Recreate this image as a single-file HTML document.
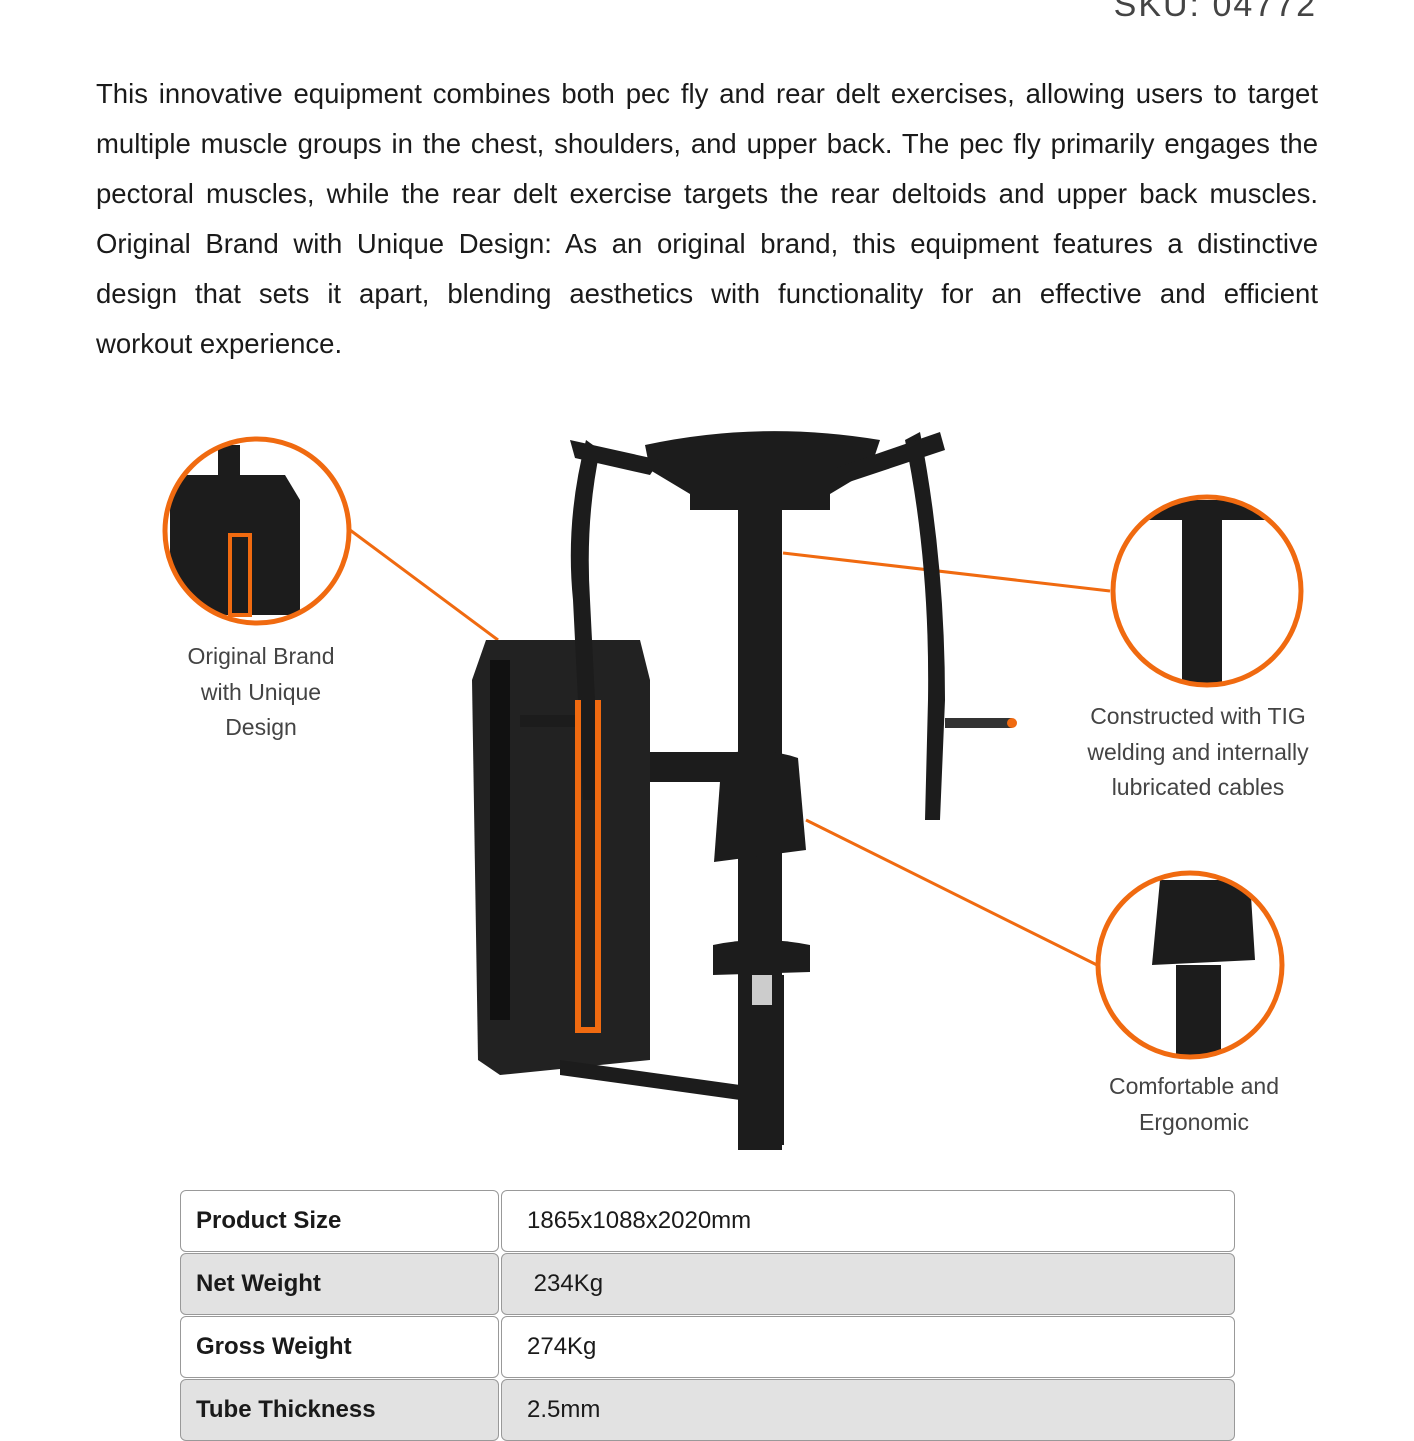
<!DOCTYPE html>
<html><head><meta charset="utf-8"><style>
body{margin:0;width:1414px;height:1414px;overflow:hidden;background:#fff;font-family:"Liberation Sans",sans-serif;color:#1a1a1a;position:relative}
.sku{position:absolute;right:97px;top:-14px;font-size:34px;color:#444;letter-spacing:2px}
.p{position:absolute;left:96px;width:1222px;font-size:27.5px;line-height:50px}
.p div{text-align:justify;text-align-last:justify;white-space:nowrap;height:50px}
.p div.l{text-align-last:left}
.lab{position:absolute;text-align:center;color:#444;font-size:23px;line-height:35.5px}
.c{position:absolute;border:1px solid #999;border-radius:6px;font-size:24px;box-sizing:border-box;line-height:60px}
.k{left:180px;width:319px;font-weight:bold;padding-left:15px}
.v{left:501px;width:734px;padding-left:25px}
.g{background:#e2e2e2}
</style></head><body>
<div class="sku">SKU: 04772</div>
<div class="p" style="top:69px">
<div>This innovative equipment combines both pec fly and rear delt exercises, allowing users to target</div>
<div>multiple muscle groups in the chest, shoulders, and upper back. The pec fly primarily engages the</div>
<div>pectoral muscles, while the rear delt exercise targets the rear deltoids and upper back muscles.</div>
<div>Original Brand with Unique Design: As an original brand, this equipment features a distinctive</div>
<div>design that sets it apart, blending aesthetics with functionality for an effective and efficient</div>
<div class="l">workout experience.</div>
</div>
<svg style="position:absolute;left:0;top:0" width="1414" height="1414">
<defs>
<clipPath id="c1"><circle cx="257" cy="531" r="90"/></clipPath>
<clipPath id="c2"><circle cx="1207" cy="591" r="92"/></clipPath>
<clipPath id="c3"><circle cx="1190" cy="965" r="90"/></clipPath>
</defs>
<g stroke="#f06a10" stroke-width="3" fill="none">
<line x1="350" y1="530" x2="498" y2="640"/><line x1="783" y1="553" x2="1110" y2="591"/><line x1="806" y1="820" x2="1097" y2="965"/>
</g>
<g fill="#1c1c1c">
<path d="M645 445 Q760 420 880 440 L870 470 L820 500 L700 500 L650 470Z"/>
<rect x="690" y="480" width="140" height="30"/>
<rect x="738" y="500" width="44" height="650"/>
<path d="M486 640 L640 640 L650 680 L650 1060 L500 1075 L478 1060 L472 680Z" fill="#222"/>
<rect x="490" y="660" width="20" height="360" fill="#111"/>
<path d="M586 440 Q565 520 573 600 L583 800 L600 800 L590 600 Q585 520 600 450Z"/>
<path d="M920 432 Q945 560 945 700 L940 820 L925 820 L928 700 Q930 560 905 440Z"/>
<path d="M570 440 L660 460 L650 475 L575 458Z"/><path d="M940 432 L830 470 L840 485 L945 450Z"/>
<rect x="650" y="752" width="90" height="30"/>
<path d="M722 755 Q760 745 798 758 L806 850 L714 862Z"/>
<path d="M713 945 Q760 935 810 945 L810 972 L713 975Z"/>
<rect x="740" y="975" width="44" height="170"/>
<path d="M560 1060 L740 1085 L740 1100 L560 1075Z"/>
<rect x="520" y="715" width="60" height="12"/>
</g>
<rect x="752" y="975" width="20" height="30" fill="#ccc"/>
<path d="M578 700 L578 1030 L598 1030 L598 700" stroke="#f06a10" stroke-width="6" fill="none"/>
<line x1="945" y1="723" x2="1012" y2="723" stroke="#333" stroke-width="10"/>
<circle cx="1012" cy="723" r="5" fill="#f06a10"/>
<g clip-path="url(#c1)" fill="#1c1c1c">
<path d="M170 475 L285 475 L300 500 L300 615 L170 615Z"/>
<rect x="218" y="445" width="22" height="170"/>
<rect x="230" y="535" width="20" height="80" fill="none" stroke="#f06a10" stroke-width="4"/>
</g>
<g clip-path="url(#c2)" fill="#1c1c1c">
<rect x="1182" y="505" width="40" height="180"/>
<path d="M1130 520 L1290 520 L1270 500 L1150 500Z"/>
</g>
<g clip-path="url(#c3)" fill="#1c1c1c">
<path d="M1160 880 L1250 880 L1255 960 L1152 965Z"/>
<rect x="1176" y="965" width="45" height="90"/>
</g>
<g stroke="#f06a10" stroke-width="5" fill="none">
<circle cx="257" cy="531" r="92"/><circle cx="1207" cy="591" r="94"/><circle cx="1190" cy="965" r="92"/>
</g>
</svg>
<div class="lab" style="left:141px;width:240px;top:639px">Original Brand<br>with Unique<br>Design</div>
<div class="lab" style="left:1058px;width:280px;top:699px">Constructed with TIG<br>welding and internally<br>lubricated cables</div>
<div class="lab" style="left:1064px;width:260px;top:1069px">Comfortable and<br>Ergonomic</div>
<div class="c k" style="top:1190px;height:62px">Product Size</div><div class="c v" style="top:1190px;height:62px">1865x1088x2020mm</div>
<div class="c k g" style="top:1253px;height:62px">Net Weight</div><div class="c v g" style="top:1253px;height:62px">&nbsp;234Kg</div>
<div class="c k" style="top:1316px;height:62px">Gross Weight</div><div class="c v" style="top:1316px;height:62px">274Kg</div>
<div class="c k g" style="top:1379px;height:62px">Tube Thickness</div><div class="c v g" style="top:1379px;height:62px">2.5mm</div>
</body></html>
